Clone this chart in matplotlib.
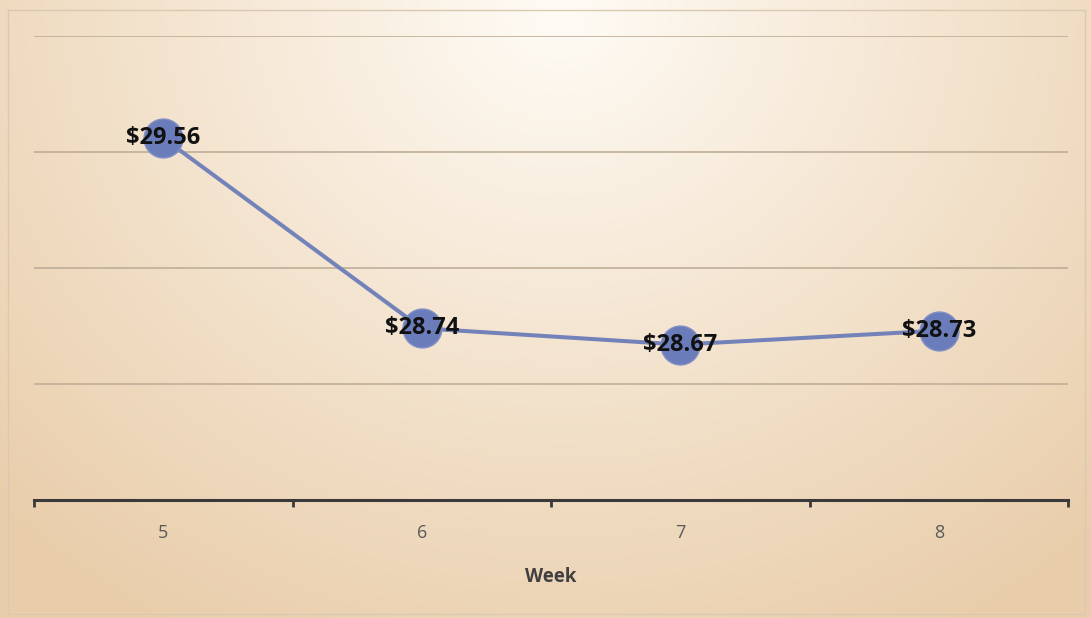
import numpy as np
import matplotlib.pyplot as plt
from matplotlib.patches import Rectangle

weeks = ["5", "6", "7", "8"]
avg_price = [29.56, 28.74, 28.67, 28.73]
price_labels = ["$29.56", "$28.74", "$28.67", "$28.73"]

W, H, DPI = 1091, 618, 100
fig = plt.figure(figsize=(W / DPI, H / DPI), dpi=DPI)

# warm radial background, light at top centre fading to tan at the edges
bg = fig.add_axes([0, 0, 1, 1], zorder=0)
yy, xx = np.mgrid[0:H, 0:W]
d = np.sqrt(((xx - 560) / 800.0) ** 2 + ((yy - 10) / 720.0) ** 2)
d = np.clip(d, 0, 1) ** 0.95
light = np.array([255, 252, 246]) / 255.0
dark = np.array([233, 205, 170]) / 255.0
img = light[None, None, :] * (1 - d[..., None]) + dark[None, None, :] * d[..., None]
bg.imshow(img, extent=[0, W, H, 0], aspect="auto")
bg.add_patch(Rectangle((8, 10), W - 14, H - 14, fill=False, edgecolor="#dac8b0", lw=1.0))
bg.set_xlim(0, W)
bg.set_ylim(H, 0)
bg.axis("off")

ax = fig.add_axes([34 / W, 1 - 500 / H, (1068 - 34) / W, (500 - 36) / H], zorder=1)
ax.patch.set_alpha(0)

x = np.arange(len(weeks))
ax.plot(x, avg_price, color="#7382b9", lw=2.9, zorder=3,
        marker="o", markersize=28, markerfacecolor="#6b7cba",
        markeredgecolor="#8090c6", markeredgewidth=1.0)

for xi, v, lab in zip(x, avg_price, price_labels):
    ax.text(xi, v, lab, ha="center", va="center", fontsize=17,
            fontweight="bold", family="Open Sans", color="#111111", zorder=4)

ax.set_xlim(-0.5, len(weeks) - 0.5)
ax.set_ylim(28.0, 30.0)
ax.set_yticks([28.5, 29.0, 29.5, 30.0])
ax.grid(axis="y", color="#bfae98", lw=1.2)
ax.tick_params(axis="y", length=0, labelleft=False)

ax.set_xticks(x)
ax.set_xticklabels(weeks, family="Open Sans", fontsize=13, color="#595959")
ax.set_xticks(np.arange(-0.5, len(weeks)), minor=True)
ax.tick_params(axis="x", which="major", length=0, pad=17)
ax.tick_params(axis="x", which="minor", length=5, width=2, color="#3a3a3a")

for s in ["top", "left", "right"]:
    ax.spines[s].set_visible(False)
ax.spines["bottom"].set_color("#3a3a3a")
ax.spines["bottom"].set_linewidth(2.2)

ax.set_xlabel("Week", family="Open Sans", fontsize=13.5, fontweight="bold",
              color="#404040", labelpad=18)

fig.savefig("out.png", dpi=DPI)
